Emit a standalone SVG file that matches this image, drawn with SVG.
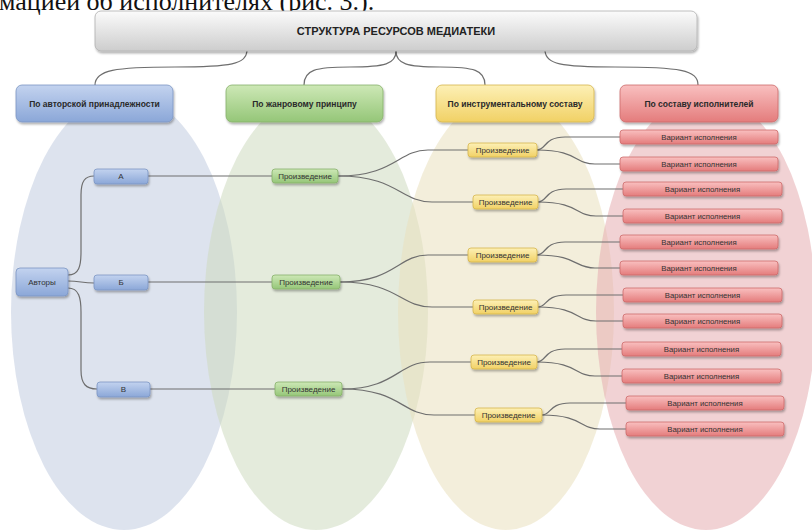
<svg xmlns="http://www.w3.org/2000/svg" width="812" height="530" viewBox="0 0 812 530">
  <style>
    .t { font-family: "Liberation Sans", Arial, sans-serif; fill: #333; text-anchor: middle; dominant-baseline: central; }
    .title { font-size: 11px; font-weight: bold; fill: #222; }
    .cat { font-size: 8.5px; font-weight: bold; fill: #2a2a2a; }
    .sm { font-size: 8px; }
    .rv { font-size: 7.8px; }
    .bl { fill: url(#gBlue); stroke: #7b95c3; stroke-width: 0.8; filter: url(#sh); }
    .gr { fill: url(#gGreen); stroke: #86b06a; stroke-width: 0.8; filter: url(#sh); }
    .ye { fill: url(#gYellow); stroke: #d6b54c; stroke-width: 0.8; filter: url(#sh); }
    .re { fill: url(#gRed); stroke: #cd6a6a; stroke-width: 0.8; filter: url(#sh); }
    .ti { fill: url(#gGrey); stroke: #b0b0b0; stroke-width: 0.8; filter: url(#sh); }
    .c { fill: none; stroke: #6e6e6e; stroke-width: 1.2; }
  </style>
  <defs>
    <filter id="sh" x="-10%" y="-30%" width="120%" height="180%">
      <feDropShadow dx="1" dy="2" stdDeviation="1.3" flood-color="#000" flood-opacity="0.3"/>
    </filter>
    <linearGradient id="gBlue" x1="0" y1="0" x2="0" y2="1">
      <stop offset="0" stop-color="#c3d3ef"/>
      <stop offset="1" stop-color="#8ba7d8"/>
    </linearGradient>
    <linearGradient id="gGreen" x1="0" y1="0" x2="0" y2="1">
      <stop offset="0" stop-color="#cde8b6"/>
      <stop offset="1" stop-color="#95c678"/>
    </linearGradient>
    <linearGradient id="gYellow" x1="0" y1="0" x2="0" y2="1">
      <stop offset="0" stop-color="#fdf0b6"/>
      <stop offset="1" stop-color="#f1d165"/>
    </linearGradient>
    <linearGradient id="gRed" x1="0" y1="0" x2="0" y2="1">
      <stop offset="0" stop-color="#f9c0c0"/>
      <stop offset="1" stop-color="#e47c7c"/>
    </linearGradient>
    <linearGradient id="gGrey" x1="0" y1="0" x2="0" y2="1">
      <stop offset="0" stop-color="#fbfbfb"/>
      <stop offset="1" stop-color="#cdcdcd"/>
    </linearGradient>
  </defs>

  <rect x="0" y="0" width="812" height="530" fill="#ffffff"/>

  <!-- cut-off document text -->
  <text x="-1" y="9.5" font-family="'Liberation Serif', 'Times New Roman', serif" font-size="26" fill="#111">мацией об исполнителях (рис. 3.).</text>

  <!-- background ellipses -->
  <g id="ellipses">
    <ellipse cx="124" cy="312" rx="113" ry="218" fill="#c1cce0" fill-opacity="0.55"/>
    <ellipse cx="316" cy="312" rx="112" ry="218" fill="#cedbbf" fill-opacity="0.55"/>
    <ellipse cx="506" cy="312" rx="108" ry="218" fill="#e9e0be" fill-opacity="0.55"/>
    <ellipse cx="706" cy="312" rx="110" ry="218" fill="#e6adb1" fill-opacity="0.55"/>
  </g>

  <!-- connectors -->
  <g id="connectors">
    <!-- title to categories -->
    <path class="c" d="M247,51 C246,64 232,67 175,67 C115,67 95,70 95,85"/>
    <path class="c" d="M396,51 C396,64 385,67 350,67 C315,67 304,70 304,85"/>
    <path class="c" d="M396,51 C396,64 407,67 440,67 C474,67 485,70 485,85"/>
    <path class="c" d="M545,51 C546,64 560,67 615,67 C680,67 698,70 698,85"/>
    <!-- authors -->
    <path class="c" d="M68,275 C79,275 81,266 81,252 L81,195 C81,181 85,176 94,176"/>
    <path class="c" d="M68,281 C80,281 82,283 94,283"/>
    <path class="c" d="M68,288 C79,288 81,298 81,312 L81,370 C81,384 86,389 97,389"/>
    <!-- letters to works -->
    <path class="c" d="M148,176 L272,176"/>
    <path class="c" d="M148,282 L272,282"/>
    <path class="c" d="M150,389 L275,389"/>
    <!-- green to yellow -->
    <path class="c" d="M338,176 C395,176 398,150 428,150 L468,150"/>
    <path class="c" d="M338,176 C398,176 400,202 432,202 L473,202"/>
    <path class="c" d="M340,282 C395,282 398,255 428,255 L468,255"/>
    <path class="c" d="M340,282 C398,282 400,307 432,307 L473,307"/>
    <path class="c" d="M342,389 C396,389 398,362 430,362 L471,362"/>
    <path class="c" d="M342,389 C400,389 402,415 434,415 L475,415"/>
    <!-- yellow to red -->
    <path class="c" d="M537,150 C546,150 544,137 565,137 L620,137"/>
    <path class="c" d="M537,150 C578,150 574,164 595,164 L620,164"/>
    <path class="c" d="M538,202 C547,202 545,189 566,189 L623,189"/>
    <path class="c" d="M538,202 C579,202 575,216 596,216 L623,216"/>
    <path class="c" d="M537,255 C546,255 544,242 565,242 L620,242"/>
    <path class="c" d="M537,255 C578,255 574,268 595,268 L620,268"/>
    <path class="c" d="M538,307 C547,307 545,295 566,295 L623,295"/>
    <path class="c" d="M538,307 C579,307 575,321 596,321 L623,321"/>
    <path class="c" d="M537,362 C546,362 544,349 565,349 L622,349"/>
    <path class="c" d="M537,362 C578,362 574,376 595,376 L622,376"/>
    <path class="c" d="M542,415 C551,415 549,403 570,403 L626,403"/>
    <path class="c" d="M542,415 C583,415 579,429 600,429 L626,429"/>
  </g>

  <!-- title -->
  <g id="title">
    <rect class="ti" x="95" y="11" width="602" height="40" rx="6"/>
    <text class="t title" x="396" y="31">СТРУКТУРА РЕСУРСОВ МЕДИАТЕКИ</text>
  </g>

  <!-- categories -->
  <g id="cat-author">
    <rect class="bl" x="16" y="85" width="157" height="37" rx="6"/>
    <text class="t cat" x="94.5" y="103.5">По авторской принадлежности</text>
  </g>
  <g id="cat-genre">
    <rect class="gr" x="226" y="85" width="157" height="37" rx="6"/>
    <text class="t cat" x="304.5" y="103.5">По жанровому принципу</text>
  </g>
  <g id="cat-instr">
    <rect class="ye" x="436" y="85" width="158" height="37" rx="6"/>
    <text class="t cat" x="515" y="103.5">По инструментальному составу</text>
  </g>
  <g id="cat-perf">
    <rect class="re" x="620" y="85" width="158" height="37" rx="6"/>
    <text class="t cat" x="699" y="103.5">По составу исполнителей</text>
  </g>

  <!-- authors column -->
  <g id="authors">
    <rect class="bl" x="16" y="268" width="52" height="28" rx="4"/>
    <text class="t sm" x="42" y="282">Авторы</text>
  </g>
  <g id="a-A">
    <rect class="bl" x="94" y="169" width="54" height="15" rx="3"/>
    <text class="t sm" x="121" y="176.5">А</text>
  </g>
  <g id="a-B">
    <rect class="bl" x="94" y="275" width="54" height="15" rx="3"/>
    <text class="t sm" x="121" y="282.5">Б</text>
  </g>
  <g id="a-V">
    <rect class="bl" x="97" y="382" width="53" height="15" rx="3"/>
    <text class="t sm" x="123.5" y="389.5">В</text>
  </g>

  <!-- genre works -->
  <g id="g1">
    <rect class="gr" x="272" y="169" width="66" height="14" rx="3"/>
    <text class="t sm" x="305" y="176">Произведение</text>
  </g>
  <g id="g2">
    <rect class="gr" x="272" y="275" width="68" height="14" rx="3"/>
    <text class="t sm" x="306" y="282">Произведение</text>
  </g>
  <g id="g3">
    <rect class="gr" x="275" y="382" width="67" height="14" rx="3"/>
    <text class="t sm" x="308.5" y="389">Произведение</text>
  </g>

  <!-- instrumental works -->
  <g id="y1">
    <rect class="ye" x="468" y="143" width="69" height="14" rx="3"/>
    <text class="t sm" x="502.5" y="150">Произведение</text>
  </g>
  <g id="y2">
    <rect class="ye" x="473" y="195" width="65" height="14" rx="3"/>
    <text class="t sm" x="505.5" y="202">Произведение</text>
  </g>
  <g id="y3">
    <rect class="ye" x="468" y="248" width="69" height="14" rx="3"/>
    <text class="t sm" x="502.5" y="255">Произведение</text>
  </g>
  <g id="y4">
    <rect class="ye" x="473" y="300" width="65" height="14" rx="3"/>
    <text class="t sm" x="505.5" y="307">Произведение</text>
  </g>
  <g id="y5">
    <rect class="ye" x="471" y="355" width="66" height="14" rx="3"/>
    <text class="t sm" x="504" y="362">Произведение</text>
  </g>
  <g id="y6">
    <rect class="ye" x="475" y="408" width="67" height="14" rx="3"/>
    <text class="t sm" x="508.5" y="415">Произведение</text>
  </g>

  <!-- performance variants -->
  <g id="r1"><rect class="re" x="620" y="130" width="158" height="14" rx="3"/><text class="t rv" x="699" y="137">Вариант исполнения</text></g>
  <g id="r2"><rect class="re" x="620" y="157" width="158" height="14" rx="3"/><text class="t rv" x="699" y="164">Вариант исполнения</text></g>
  <g id="r3"><rect class="re" x="623" y="182" width="159" height="14" rx="3"/><text class="t rv" x="702.5" y="189">Вариант исполнения</text></g>
  <g id="r4"><rect class="re" x="623" y="209" width="159" height="14" rx="3"/><text class="t rv" x="702.5" y="216">Вариант исполнения</text></g>
  <g id="r5"><rect class="re" x="620" y="235" width="158" height="14" rx="3"/><text class="t rv" x="699" y="242">Вариант исполнения</text></g>
  <g id="r6"><rect class="re" x="620" y="261" width="158" height="14" rx="3"/><text class="t rv" x="699" y="268">Вариант исполнения</text></g>
  <g id="r7"><rect class="re" x="623" y="288" width="159" height="14" rx="3"/><text class="t rv" x="702.5" y="295">Вариант исполнения</text></g>
  <g id="r8"><rect class="re" x="623" y="314" width="159" height="14" rx="3"/><text class="t rv" x="702.5" y="321">Вариант исполнения</text></g>
  <g id="r9"><rect class="re" x="622" y="342" width="159" height="14" rx="3"/><text class="t rv" x="701.5" y="349">Вариант исполнения</text></g>
  <g id="r10"><rect class="re" x="622" y="369" width="159" height="14" rx="3"/><text class="t rv" x="701.5" y="376">Вариант исполнения</text></g>
  <g id="r11"><rect class="re" x="626" y="396" width="158" height="14" rx="3"/><text class="t rv" x="705" y="403">Вариант исполнения</text></g>
  <g id="r12"><rect class="re" x="626" y="422" width="158" height="14" rx="3"/><text class="t rv" x="705" y="429">Вариант исполнения</text></g>
</svg>
